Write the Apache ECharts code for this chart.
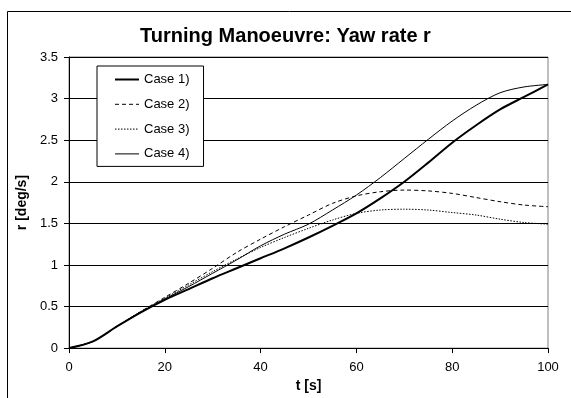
<!DOCTYPE html>
<html>
<head>
<meta charset="utf-8">
<script src="https://cdn.jsdelivr.net/npm/echarts@6/dist/echarts.min.js"></script>
<style>
  html, body { margin: 0; padding: 0; background: #fff; }
  #chart { width: 571px; height: 398px; }
</style>
</head>
<body>
<div id="chart"></div>
<script>
// time axis (s)
const time = [0, 5, 10, 15, 20, 25, 30, 35, 40, 45, 50, 55, 60, 65, 70, 75, 80, 85, 90, 95, 100];

// yaw rate r [deg/s]
const case1 = [0, 0.08, 0.26, 0.43, 0.58, 0.71, 0.84, 0.96, 1.08, 1.2, 1.33, 1.47, 1.62, 1.8, 2.0, 2.23, 2.47, 2.68, 2.87, 3.02, 3.17];
const case2 = [0, 0.08, 0.26, 0.44, 0.61, 0.78, 0.96, 1.15, 1.31, 1.46, 1.6, 1.74, 1.83, 1.88, 1.9, 1.89, 1.86, 1.81, 1.76, 1.72, 1.7];
const case3 = [0, 0.08, 0.26, 0.44, 0.6, 0.76, 0.92, 1.07, 1.21, 1.33, 1.44, 1.54, 1.62, 1.66, 1.67, 1.66, 1.63, 1.6, 1.55, 1.51, 1.49];
const case4 = [0, 0.08, 0.26, 0.43, 0.59, 0.74, 0.9, 1.06, 1.23, 1.37, 1.49, 1.66, 1.84, 2.05, 2.28, 2.51, 2.73, 2.92, 3.07, 3.14, 3.17];

const seriesNames = ['Case 1)', 'Case 2)', 'Case 3)', 'Case 4)'];
const seriesData = [case1, case2, case3, case4];
const seriesLines = [
  { width: 2, type: 'solid' },
  { width: 1, type: [4, 3] },
  { width: 1, type: [1.5, 1.5] },
  { width: 1, type: 'solid' },
];

const chart = echarts.init(document.getElementById('chart'));

const option = {
  animation: false,
  backgroundColor: '#fff',
  textStyle: { fontFamily: 'Liberation Sans, Arial, sans-serif', color: '#000' },
  title: {
    text: 'Turning Manoeuvre: Yaw rate r',
    left: 'center',
    top: 21,
    textStyle: { fontSize: 20, fontWeight: 'bold', color: '#000' },
  },
  graphic: [
    {
      type: 'rect',
      shape: { x: 7.5, y: 11.5, width: 700, height: 500 },
      style: { fill: 'none', stroke: '#000', lineWidth: 1 },
      z: -1,
    },
  ],
  legend: {
    orient: 'vertical',
    left: 97,
    top: 66,
    padding: [7, 14, 6, 17],
    itemWidth: 24,
    itemHeight: 12,
    itemGap: 11.8,
    backgroundColor: '#fff',
    borderColor: '#000',
    borderWidth: 1,
    borderRadius: 0,
    itemStyle: { opacity: 0 },
    textStyle: { fontSize: 13, color: '#000' },
    data: seriesNames.map((name, i) => ({
      name: name,
      lineStyle: { color: '#000', width: seriesLines[i].width, type: seriesLines[i].type },
    })),
  },
  grid: {
    left: 69,
    right: 23,
    top: 57,
    bottom: 49,
    show: true,
    borderColor: '#808080',
    borderWidth: 1,
  },
  xAxis: {
    type: 'value',
    min: 0,
    max: 100,
    interval: 20,
    name: 't [s]',
    nameLocation: 'middle',
    nameGap: 25,
    nameTextStyle: { fontSize: 14, fontWeight: 'bold', color: '#000', verticalAlign: 'top' },
    axisLine: { lineStyle: { color: '#000', width: 1 } },
    axisTick: { show: true, inside: false, length: 5, lineStyle: { color: '#000' } },
    axisLabel: { fontSize: 13, color: '#000', margin: 13 },
    splitLine: { show: false },
  },
  yAxis: {
    type: 'value',
    min: 0,
    max: 3.5,
    interval: 0.5,
    name: 'r [deg/s]',
    nameLocation: 'middle',
    nameGap: 40,
    nameTextStyle: { fontSize: 14, fontWeight: 'bold', color: '#000' },
    axisLine: { show: true, lineStyle: { color: '#000', width: 1 } },
    axisTick: { show: true, inside: false, length: 5, lineStyle: { color: '#000' } },
    axisLabel: { fontSize: 13, color: '#000', margin: 11 },
    splitLine: { show: true, lineStyle: { color: '#000', width: 1 } },
  },
  series: seriesNames.map((name, i) => ({
    name: name,
    type: 'line',
    data: time.map((t, j) => [t, seriesData[i][j]]),
    smooth: 0.3,
    symbol: 'none',
    lineStyle: { color: '#000', width: seriesLines[i].width, type: seriesLines[i].type },
    itemStyle: { color: '#000' },
    z: 4 - i,
  })),
};

chart.setOption(option);
</script>
</body>
</html>
